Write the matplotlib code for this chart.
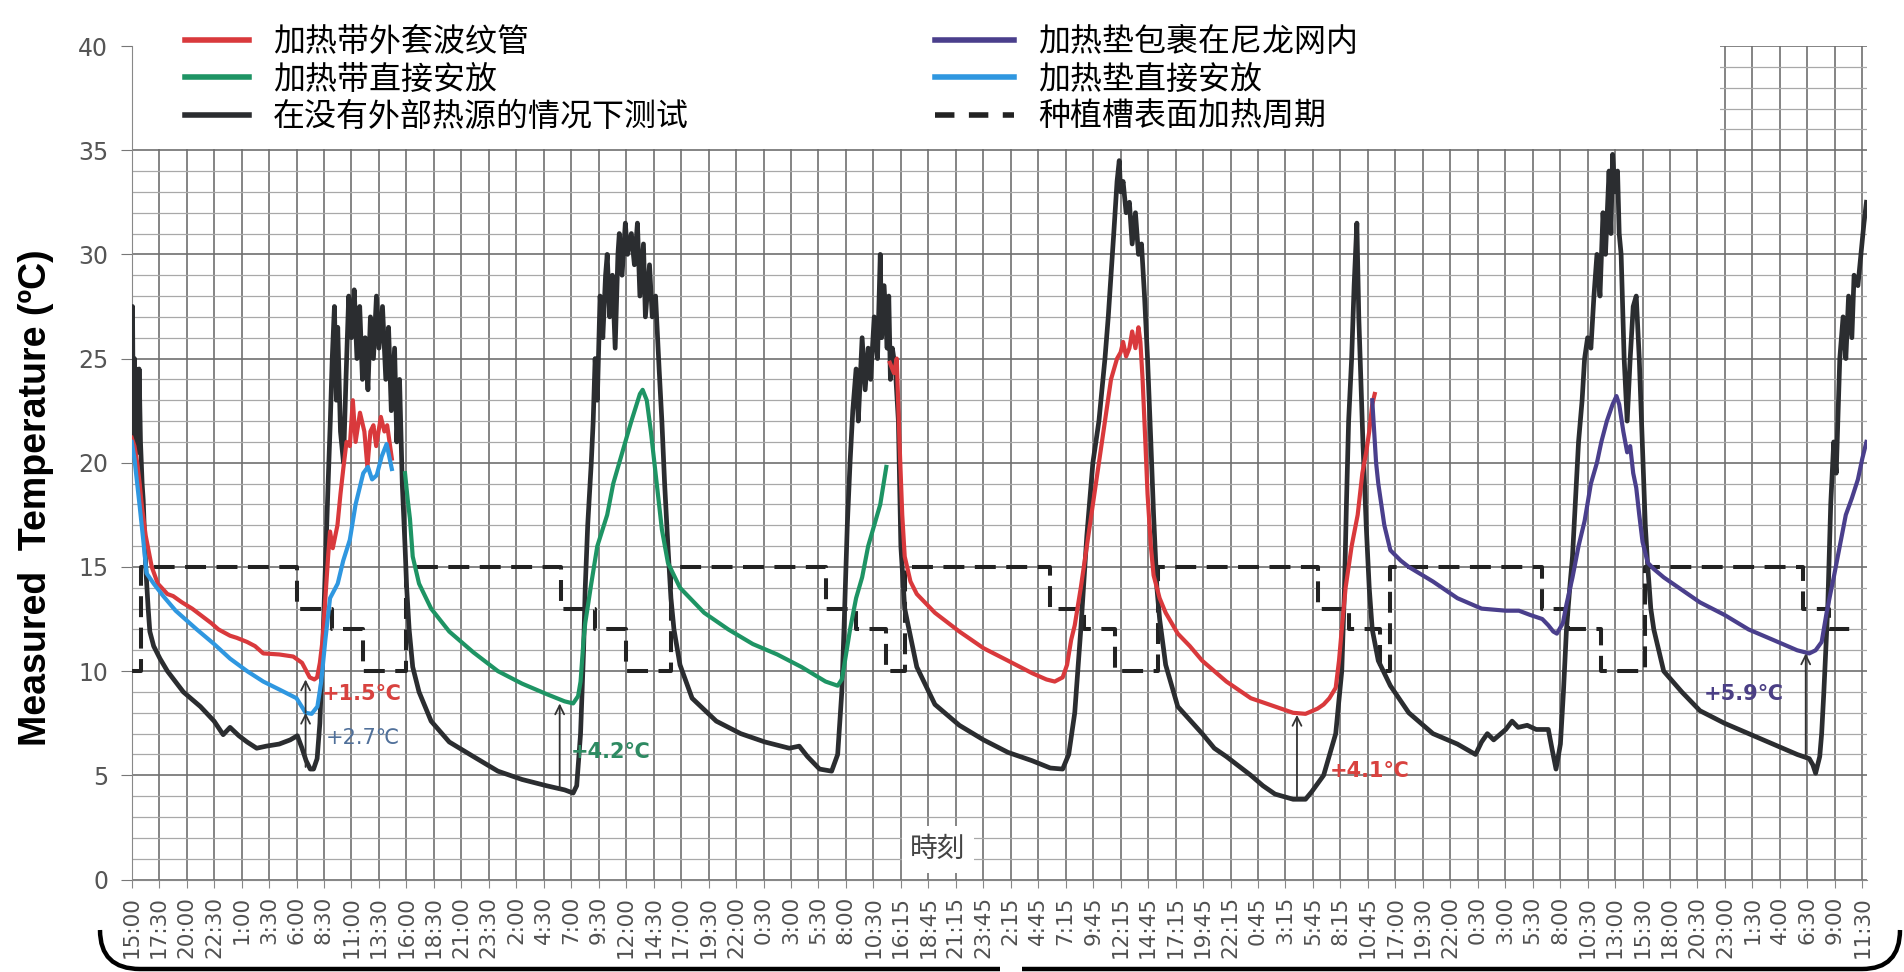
import numpy as np
import matplotlib
matplotlib.use('Agg')
import matplotlib.pyplot as plt
from matplotlib.ticker import MultipleLocator
from matplotlib.patches import Rectangle, PathPatch
from matplotlib.path import Path
from matplotlib.font_manager import FontProperties, fontManager

plt.rcParams['font.family'] = ['DejaVu Sans', 'Noto Sans CJK SC']

# ---------------- data ----------------
time_labels = ["15:00", "17:30", "20:00", "22:30", "1:00", "3:30", "6:00", "8:30", "11:00", "13:30",
               "16:00", "18:30", "21:00", "23:30", "2:00", "4:30", "7:00", "9:30", "12:00", "14:30",
               "17:00", "19:30", "22:00", "0:30", "3:00", "5:30", "8:00", "10:30",
               "16:15", "18:45", "21:15", "23:45", "2:15", "4:45", "7:15", "9:45", "12:15", "14:45",
               "17:15", "19:45", "22:15", "0:45", "3:15", "5:45", "8:15", "10:45",
               "17:00", "19:30", "22:00", "0:30", "3:00", "5:30", "8:00", "10:30", "13:00", "15:30",
               "18:00", "20:30", "23:00", "1:30", "4:00", "6:30", "9:00", "11:30"]

# x positions are in tick-index units (0 = first tick "15:00")
black_x = [0, 0.03, 0.06, 0.1, 0.13, 0.17, 0.22, 0.27, 0.32, 0.38, 0.42, 0.51, 0.6, 0.66, 0.8, 1.03, 1.3, 1.88,
           2.5, 3.0, 3.33, 3.58, 3.9, 4.2, 4.55, 4.9, 5.37, 5.77, 6.03, 6.2, 6.35, 6.5, 6.62, 6.75, 6.85, 6.95,
           7.05, 7.15, 7.23, 7.3, 7.38, 7.45, 7.5, 7.6, 7.71, 7.8, 7.9, 8.0, 8.1, 8.2, 8.3, 8.4, 8.5, 8.6,
           8.69, 8.8, 8.91, 9.0, 9.13, 9.25, 9.35, 9.45, 9.57, 9.65, 9.75, 9.85, 9.95, 10.01, 10.1, 10.23,
           10.46, 10.9, 11.56, 12.44, 13.33, 14.21, 15.1, 15.76, 16.07, 16.2, 16.34, 16.45, 16.51, 16.6,
           16.73, 16.8, 16.87, 16.95, 17.05, 17.15, 17.25, 17.31, 17.4, 17.5, 17.6, 17.7, 17.75, 17.85,
           17.97, 18.05, 18.19, 18.3, 18.41, 18.5, 18.63, 18.7, 18.85, 18.95, 19.07, 19.2, 19.3, 19.4,
           19.52, 19.63, 19.74, 19.96, 20.4, 21.28, 22.17, 23.05, 23.94, 24.3, 24.6, 25.04, 25.48, 25.7,
           25.85, 25.93, 26.05, 26.15, 26.25, 26.37, 26.45, 26.59, 26.7, 26.81, 26.9, 27.03, 27.15, 27.25,
           27.3, 27.39, 27.5, 27.56, 27.62, 27.69, 27.8, 27.91, 28.0, 28.14, 28.58, 29.24, 30.13, 31.01,
           31.9, 32.78, 33.44, 33.89, 34.11, 34.33, 34.55, 34.77, 34.99, 35.21, 35.43, 35.55, 35.65, 35.75,
           35.87, 35.95, 36.0, 36.09, 36.2, 36.32, 36.42, 36.54, 36.65, 36.76, 36.87, 36.98, 37.1, 37.2,
           37.32, 37.42, 37.64, 38.08, 38.97, 39.41, 39.85, 40.74, 41.18, 41.62, 42.28, 42.73, 42.95,
           43.39, 43.83, 44.05, 44.15, 44.22, 44.3, 44.41, 44.5, 44.6, 44.67, 44.72, 44.82, 44.94, 45.05,
           45.16, 45.38, 45.82, 46.49, 47.37, 48.26, 48.92, 49.14, 49.35, 49.58, 50.02, 50.25, 50.47, 50.8,
           51.13, 51.57, 51.7, 51.85, 52.01, 52.12, 52.23, 52.35, 52.45, 52.55, 52.67, 52.8, 52.89, 53.0,
           53.12, 53.23, 53.34, 53.45, 53.56, 53.65, 53.78, 53.85, 53.91, 54.0, 54.09, 54.15, 54.22, 54.33,
           54.44, 54.55, 54.66, 54.77, 54.88, 55.02, 55.1, 55.19, 55.3, 55.41, 55.77, 56.43, 57.09, 57.98,
           58.86, 59.75, 60.63, 61.07, 61.2, 61.3, 61.45, 61.52, 61.6, 61.74, 61.85, 61.96, 62.05, 62.18,
           62.3, 62.4, 62.5, 62.62, 62.7, 62.84, 62.95, 63.06, 63.15]
black_y = [22, 27.5, 21, 25, 20, 24.5, 20.5, 24.5, 21, 19, 18.2, 15, 13, 11.9, 11.2, 10.6, 10, 9.0,
           8.3, 7.6, 6.95, 7.3, 6.9, 6.6, 6.3, 6.4, 6.5, 6.7, 6.9, 6.3, 5.7, 5.3, 5.3, 5.8, 7.5, 11,
           15, 19, 22, 25, 27.5, 23, 26.5, 21.5, 20, 24, 28, 26, 28.3, 25, 27.5, 24, 26, 23.5,
           27, 25, 28, 25.5, 27.5, 24, 26.5, 22.5, 25.5, 21, 24, 19, 16, 14, 12, 10.2,
           9.0, 7.6, 6.6, 5.9, 5.2, 4.8, 4.5, 4.3, 4.15, 4.5, 7, 11, 14, 17,
           20, 22, 25, 23, 28, 26, 29, 30, 27, 29, 25.5, 30, 31, 29,
           31.5, 30, 31, 29.5, 31.5, 28, 30.5, 27, 29.5, 27, 28, 24.5, 22, 19,
           16, 13.5, 12, 10.3, 8.7, 7.6, 7.0, 6.6, 6.3, 6.4, 5.9, 5.3, 5.2, 6.0,
           9, 12, 17, 20, 22.5, 24.5, 22, 26, 23.5, 25.5, 24, 27, 25, 30,
           26, 28.5, 25.5, 28, 24, 25.5, 24.5, 22, 16, 13, 10.2, 8.4, 7.4, 6.7,
           6.1, 5.7, 5.35, 5.3, 6.0, 8, 12, 16.5, 20, 22, 25, 27, 29, 31,
           33.5, 34.5, 33, 33.5, 32, 32.5, 30.5, 32, 30, 30.5, 28, 25, 21, 17.5,
           14, 12.5, 10.3, 8.3, 7.0, 6.3, 5.9, 5.0, 4.5, 4.1, 3.85, 3.85, 4.2,
           5.0, 7.0, 10, 14, 18, 22, 25, 28.5, 31.5, 27, 25, 21, 17, 14,
           12, 10.5, 9.3, 8.0, 7.0, 6.5, 6.0, 6.6, 7.0, 6.7, 7.2, 7.6, 7.3, 7.4,
           7.2, 7.2, 6.3, 5.3, 6.5, 9, 12, 14, 15.5, 18, 21, 23, 25, 26,
           25.5, 28, 30, 28, 32, 30, 34, 31, 34.8, 33, 34, 31, 30, 25,
           22, 25, 27.5, 28, 25, 20, 17, 15, 13, 12, 10, 9, 8.1, 7.5,
           7.0, 6.5, 6.0, 5.8, 5.5, 5.1, 5.9, 7, 9, 13, 18, 21, 19.5, 25,
           27, 25, 28, 26, 29, 28.5, 30, 31.5, 32.5]

red_x = [0, 0.1, 0.2, 0.29, 0.38, 0.51, 0.73, 0.95, 1.3, 1.51, 1.83, 2.2, 2.5, 2.9, 3.16, 3.58, 3.82,
         4.2, 4.49, 4.79, 5.37, 5.88, 6.2, 6.48, 6.65, 6.75, 6.85, 6.95, 7.05, 7.15, 7.22, 7.32, 7.49,
         7.6, 7.71, 7.82, 7.94, 8.05, 8.15, 8.31, 8.47, 8.58, 8.69, 8.8, 8.9, 9.07, 9.2, 9.3, 9.47,
         np.nan,
         27.6, 27.75, 27.85, 27.95, 28.05, 28.14, 28.35, 28.58, 29.24, 30.13, 31.01, 31.9, 32.78, 33.3,
         33.6, 33.89, 34.05, 34.2, 34.33, 34.55, 34.77, 34.99, 35.21, 35.43, 35.65, 35.87, 36.0, 36.09,
         36.2, 36.32, 36.42, 36.54, 36.65, 36.72, 36.8, 36.9, 36.98, 37.1, 37.2, 37.42, 37.64, 38.08,
         38.52, 38.97, 39.85, 40.74, 41.62, 42.28, 42.73, 43.17, 43.39, 43.6, 43.83, 43.95, 44.05, 44.19,
         44.41, 44.63, 44.8, 44.94, 45.05, 45.16, 45.25]
red_y = [21.2, 20.8, 20, 19, 17.8, 16.5, 15, 14.2, 13.7, 13.6, 13.3, 13.0, 12.7, 12.3, 12.0, 11.7, 11.6,
         11.4, 11.2, 10.85, 10.8, 10.7, 10.4, 9.7, 9.6, 9.7, 10.4, 11.5, 13.5, 15.5, 16.7, 15.9, 17,
         18.5, 19.8, 21, 20.8, 23, 21, 22.4, 21.5, 19.8, 21.5, 21.8, 20.8, 22.2, 21.5, 21.8, 20.2,
         np.nan,
         24.8, 24.3, 25, 21, 17.5, 15.5, 14.3, 13.7, 12.8, 11.9, 11.1, 10.5, 9.9, 9.6,
         9.5, 9.7, 10.3, 11.5, 12.2, 14, 16, 18, 20, 22, 24, 25, 25.3, 25.8,
         25.1, 25.5, 26.3, 25.5, 26.5, 25.8, 24, 21, 18.5, 16, 14.6, 13.5, 12.8, 11.8,
         11.2, 10.5, 9.5, 8.7, 8.3, 8.0, 7.95, 8.2, 8.4, 8.7, 9.2, 10.5, 12, 14,
         16, 17.5, 19.5, 20.5, 21.5, 22.8, 23.3]

green_x = [9.95, 10.05, 10.13, 10.23, 10.46, 10.9, 11.56, 12.44, 13.33, 14.21, 15.1, 15.76, 16.07, 16.25,
           16.34, 16.45, 16.51, 16.73, 16.95, 17.31, 17.53, 17.75, 18.19, 18.5, 18.6, 18.75, 18.9, 19.07,
           19.3, 19.52, 19.96, 20.84, 21.72, 22.61, 23.5, 24.38, 25.26, 25.7, 25.85, 25.93, 26.15, 26.37,
           26.59, 26.81, 27.03, 27.25, 27.47]
green_y = [19.5, 18.2, 17.3, 15.5, 14.2, 13.0, 11.9, 10.9, 10.0, 9.4, 8.9, 8.55, 8.45, 8.8,
           9.5, 11.5, 12.3, 14.2, 16, 17.5, 19, 20, 22, 23.3, 23.5, 23.0, 21.5, 19.5,
           16.8, 15.2, 14.0, 12.8, 12.0, 11.3, 10.8, 10.2, 9.5, 9.3, 9.6, 10.2, 12, 13.5,
           14.5, 16, 17, 18, 19.8]

blue_x = [0, 0.1, 0.2, 0.3, 0.42, 0.54, 0.8, 1.15, 1.6, 2.37, 3.0, 3.58, 4.2, 4.79, 5.4, 6.0, 6.33, 6.55,
          6.76, 6.9, 7.05, 7.22, 7.5, 7.7, 7.94, 8.15, 8.43, 8.6, 8.75, 8.92, 9.1, 9.28, 9.47]
blue_y = [21, 20.2, 19, 17.8, 16.3, 14.7, 14.2, 13.6, 12.9, 12.0, 11.3, 10.6, 10.0, 9.5, 9.1, 8.7, 8.0, 7.95,
          8.3, 9.5, 11.5, 13.5, 14.2, 15.3, 16.3, 18, 19.5, 19.8, 19.2, 19.4, 20.3, 20.9, 19.7]

purple_x = [45.16, 45.3, 45.38, 45.6, 45.82, 46.2, 46.49, 47.37, 48.26, 49.14, 50.02, 50.5, 50.9, 51.35,
            51.57, 51.75, 51.88, 52.1, 52.23, 52.45, 52.67, 52.89, 53.12, 53.34, 53.5, 53.7, 53.91, 54.05,
            54.15, 54.3, 54.44, 54.55, 54.66, 54.77, 54.88, 55.0, 55.19, 55.41, 55.77, 56.43, 57.09, 57.98,
            58.86, 59.75, 60.63, 61.07, 61.3, 61.52, 61.7, 61.85, 61.96, 62.18, 62.4, 62.62, 62.84, 63.0,
            63.15]
purple_y = [23, 20, 19, 17, 15.8, 15.3, 15.0, 14.3, 13.5, 13.0, 12.9, 12.9, 12.7, 12.5,
            12.2, 11.9, 11.8, 12.3, 13.2, 14.5, 16, 17.2, 19, 20, 21, 22, 22.8, 23.2,
            22.8, 21.5, 20.5, 20.8, 19.5, 18.8, 17.5, 16.2, 15.2, 14.9, 14.5, 13.9, 13.3, 12.7,
            12.0, 11.5, 11.0, 10.85, 11.0, 11.4, 12.8, 13.8, 14.5, 16, 17.5, 18.3, 19.2, 20.2,
            21]

# heating schedule of the planter surface (step edges and levels)
dash_edges = [0, 0.33, 6.0, 7.3, 8.43, 10.0, 15.63, 16.87, 18.0, 19.65, 25.27, 26.37, 27.47, 28.14,
              33.44, 34.68, 35.8, 37.35, 43.17, 44.3, 45.45, 45.8, 51.35, 52.3, 53.5, 55.1, 60.85,
              61.8, 62.8]
dash_levels = [10, 15, 13, 12, 10, 15, 13, 12, 10, 15, 13, 12, 10, 15, 13, 12, 10, 15, 13, 12, 10,
               15, 13, 12, 10, 15, 13, 12]

# annotations: (x, bottom, top) of arrows and labels
arrows = [(6.33, 5.4, 8.0), (6.33, 8.0, 9.6), (15.58, 4.3, 8.45), (42.42, 3.9, 7.9), (60.94, 5.8, 10.85)]
notes = [("+1.5℃", 6.92, 8.9, '#d8423f', 'bold'), ("+2.7℃", 7.05, 6.8, '#50709a', 'normal'),
         ("+4.2℃", 16.0, 6.1, '#2e8a62', 'bold'), ("+4.1℃", 43.6, 5.2, '#d8423f', 'bold'),
         ("+5.9℃", 57.23, 8.9, '#4b3f85', 'bold')]

legend_left = ["加热带外套波纹管", "加热带直接安放", "在没有外部热源的情况下测试"]
legend_right = ["加热垫包裹在尼龙网内", "加热垫直接安放", "种植槽表面加热周期"]

C_RED = '#d9393c'
C_GREEN = '#1e9464'
C_BLACK = '#2b2d30'
C_BLUE = '#2f97e0'
C_PURPLE = '#4a3f8c'

# ---------------- figure ----------------
W, H = 1904, 972
fig = plt.figure(figsize=(W / 100, H / 100), dpi=100)
x0 = 131.7
xmax = 63.18
spacing = 27.47
ax = fig.add_axes([x0 / W, 92.5 / H, xmax * spacing / W, 833.5 / H])
ax.set_xlim(0, xmax)
ax.set_ylim(0, 40)

ax.set_axisbelow(True)
ax.set_xticks(np.arange(len(time_labels)))
ax.set_xticklabels(time_labels, rotation=90, fontsize=15.5, color='#505050', family='DejaVu Sans')
ax.set_yticks(np.arange(0, 41, 5))
ax.yaxis.set_minor_locator(MultipleLocator(1))
ax.tick_params(axis='y', which='major', length=8, color='#777777', labelsize=17, labelcolor='#555555', pad=9)
ax.tick_params(axis='y', which='minor', length=0)
ax.tick_params(axis='x', length=6, color='#888888', pad=6)
ax.grid(axis='x', color='#6f6f6f', lw=1.2)
ax.grid(axis='y', which='major', color='#6f6f6f', lw=1.2)
ax.grid(axis='y', which='minor', color='#a8a8a8', lw=0.9)
for s in ['top', 'right']:
    ax.spines[s].set_visible(False)
ax.spines['left'].set_color('#888888')
ax.spines['bottom'].set_color('#888888')

# blank the grid above 35 except the top-right block
ax.add_patch(Rectangle((0.02, 35.06), 57.8, 5.5, facecolor='white', edgecolor='none', zorder=1, clip_on=False))

# dashed schedule
sx, sy = [], []
for i, lv in enumerate(dash_levels):
    sx += [dash_edges[i], dash_edges[i + 1]]
    sy += [lv, lv]
ax.plot(sx, sy, color='#222222', lw=2.9, dashes=(5.2, 2.6), zorder=3)

ax.plot(black_x, black_y, color=C_BLACK, lw=3.4, zorder=4, solid_joinstyle='round')
ax.plot(red_x, red_y, color=C_RED, lw=3.0, zorder=5)
ax.plot(green_x, green_y, color=C_GREEN, lw=3.0, zorder=5)
ax.plot(blue_x, blue_y, color=C_BLUE, lw=3.0, zorder=5)
ax.plot(purple_x, purple_y, color=C_PURPLE, lw=3.0, zorder=5)

for (xa, yb, yt) in arrows:
    ax.annotate('', xy=(xa, yt), xytext=(xa, yb),
                arrowprops=dict(arrowstyle='->', color='#333333', lw=1.3, shrinkA=0, shrinkB=0,
                                mutation_scale=16), zorder=6)
for (t, xt, yt, c, w) in notes:
    ax.text(xt, yt, t, color=c, fontsize=15, fontweight=w, ha='left', va='center', zorder=7,
            family=['DejaVu Sans', 'Noto Sans CJK SC'])

ax.text(29.35, 1.45, "時刻", fontsize=20, color='#444444', ha='center', va='center',
        family=['Noto Sans CJK JP', 'Noto Sans CJK SC'], zorder=8,
        bbox=dict(facecolor='white', edgecolor='none', pad=6))

# legends
cjk = FontProperties(family='Noto Sans CJK SC', size=23)
h_left = [plt.Line2D([], [], color=C_RED, lw=4), plt.Line2D([], [], color=C_GREEN, lw=4),
          plt.Line2D([], [], color=C_BLACK, lw=4)]
h_right = [plt.Line2D([], [], color=C_PURPLE, lw=4), plt.Line2D([], [], color=C_BLUE, lw=4),
           plt.Line2D([], [], color='#222222', lw=4, dashes=(3.5, 2.6))]
leg1 = fig.legend(h_left, legend_left, loc='upper left', bbox_to_anchor=(185 / W, 1 - 26 / H),
                  frameon=False, prop=cjk, handlelength=2.0, handletextpad=0.75, labelspacing=0.17,
                  borderpad=0, borderaxespad=0)
leg2 = fig.legend(h_right, legend_right, loc='upper left', bbox_to_anchor=(935 / W, 1 - 26 / H),
                  frameon=False, prop=cjk, handlelength=2.47, handletextpad=0.75, labelspacing=0.17,
                  borderpad=0, borderaxespad=0)

# y label (condensed bold if available)
names = {f.name for f in fontManager.ttflist}
if 'Liberation Sans Narrow' in names:
    ylab_family, ylab_size = 'Liberation Sans Narrow', 32
else:
    ylab_family, ylab_size = 'Liberation Sans', 27
fig.text(36 / W, 1 - 498 / H, "Measured  Temperature (ºC)", rotation=90, ha='center', va='center',
         fontsize=ylab_size, fontweight='bold', family=ylab_family, color='black')

# bottom bracket frame
def bracket(pts, codes):
    p = Path([(x / W, 1 - y / H) for x, y in pts], codes)
    fig.add_artist(PathPatch(p, facecolor='none', edgecolor='black', lw=3.2, transform=fig.transFigure))

bracket([(100, 930), (100, 969), (140, 969), (1000, 969)],
        [Path.MOVETO, Path.CURVE3, Path.CURVE3, Path.LINETO])
bracket([(1022, 969), (1862, 969), (1900, 969), (1900, 930)],
        [Path.MOVETO, Path.LINETO, Path.CURVE3, Path.CURVE3])

fig.savefig('out.png', dpi=100, facecolor='white')
